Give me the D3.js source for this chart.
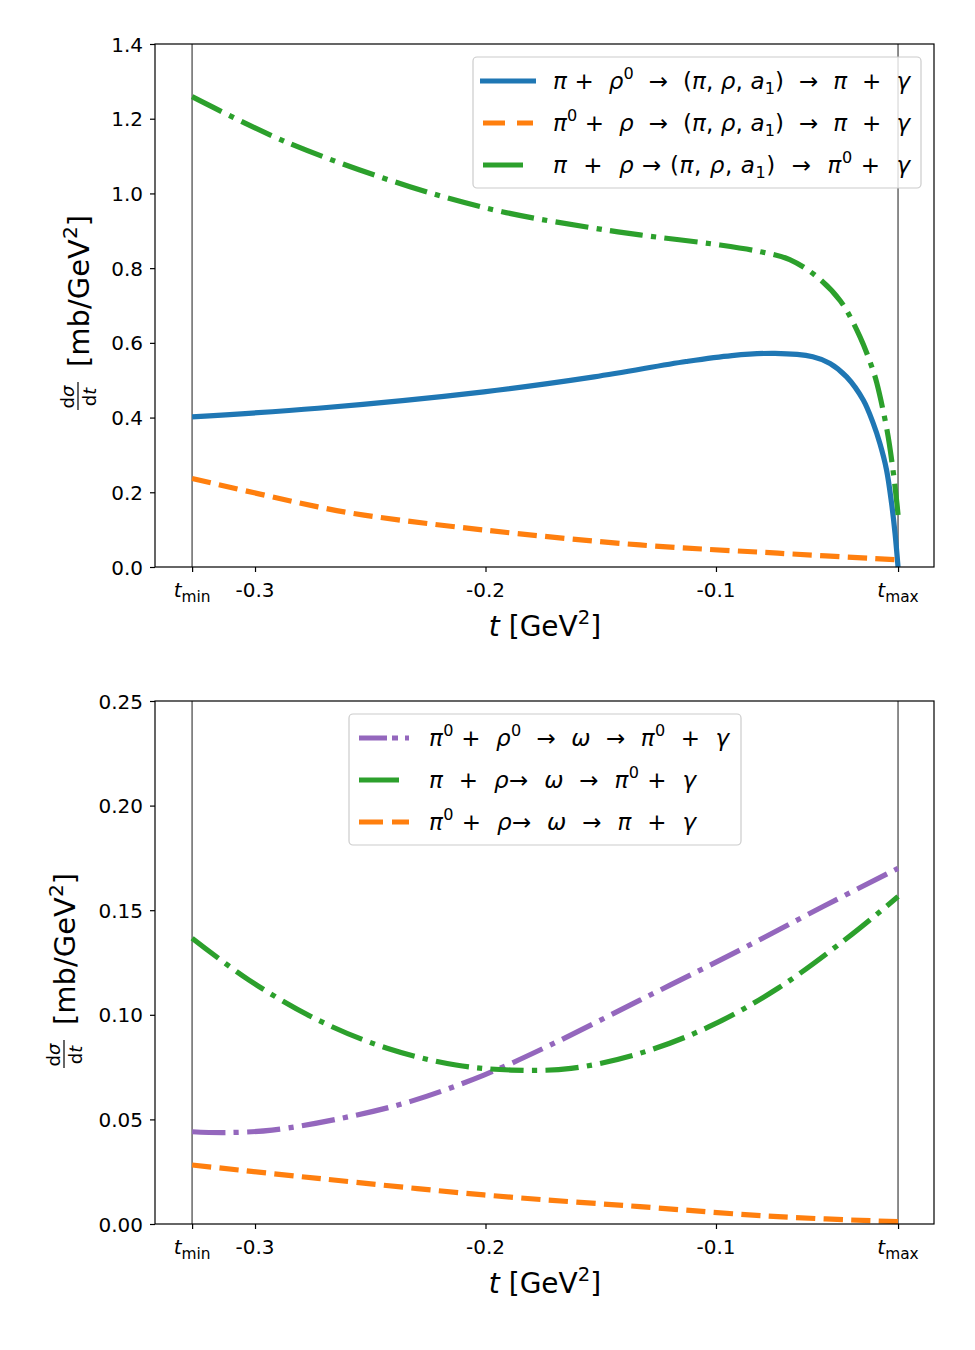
<!DOCTYPE html>
<html>
<head>
<meta charset="utf-8">
<script src="https://cdn.jsdelivr.net/npm/d3@7"></script>
<style>
  body { margin: 0; background: #fff; }
  text { font-family: "DejaVu Sans", sans-serif; white-space: pre; }
</style>
</head>
<body>
<div id="chart"></div>
<script>
// t range edges (GeV^2)
const tMin = -0.3273
const tMax = -0.0210
const xTicks = [tMin, -0.3, -0.2, -0.1, tMax]

// ---- top panel: (pi, rho, a1) exchange ----
const blueT   = [-0.3273, -0.2727, -0.2007, -0.1529, -0.1130, -0.0931, -0.0744, -0.0580, -0.0505, -0.0433, -0.0361, -0.0318, -0.0289, -0.0260, -0.0238, -0.0223, -0.0210]
const blueV   = [0.402, 0.425, 0.469, 0.509, 0.550, 0.566, 0.572, 0.563, 0.545, 0.509, 0.447, 0.385, 0.331, 0.260, 0.170, 0.090, 0.0]
const greenT  = [-0.3273, -0.2866, -0.2328, -0.1928, -0.1529, -0.1330, -0.0983, -0.0800, -0.0680, -0.0560, -0.0460, -0.0375, -0.0319, -0.0302, -0.0258, -0.0232, -0.0215, -0.0210]
const greenV  = [1.259, 1.138, 1.018, 0.951, 0.907, 0.889, 0.862, 0.843, 0.823, 0.776, 0.712, 0.616, 0.527, 0.492, 0.367, 0.260, 0.171, 0.139]
const orangeT = [-0.3273, -0.2727, -0.2527, -0.2007, -0.1330, -0.0731, -0.0210]
const orangeV = [0.237, 0.161, 0.139, 0.099, 0.059, 0.037, 0.019]
const topYTicks = [0, 0.2, 0.4, 0.6, 0.8, 1.0, 1.2, 1.4]

// ---- bottom panel: omega exchange ----
const purpleT  = [-0.3273, -0.3126, -0.2926, -0.2627, -0.2328, -0.2007, -0.1729, -0.1330, -0.0931, -0.0531, -0.0210]
const purpleV  = [0.0441, 0.0437, 0.0449, 0.0505, 0.0585, 0.0712, 0.0850, 0.107, 0.129, 0.152, 0.170]
const green2T  = [-0.3273, -0.3026, -0.2727, -0.2427, -0.2128, -0.1889, -0.1629, -0.1330, -0.1030, -0.0731, -0.0432, -0.0210]
const green2V  = [0.1366, 0.1166, 0.0975, 0.0840, 0.0760, 0.0736, 0.0744, 0.0816, 0.0943, 0.1127, 0.1366, 0.1565]
const orange2T = [-0.3273, -0.2727, -0.2007, -0.1330, -0.0731, -0.0210]
const orange2V = [0.0282, 0.0218, 0.0139, 0.0083, 0.0035, 0.0011]
const botYTicks = [0, 0.05, 0.10, 0.15, 0.20, 0.25]

// legend labels as [text, style] pieces
const topLabels = [
    [["π","i"],[" +  ","n"],["ρ","i"],["0","sup"],["  →  (","n"],["π","i"],[", ","n"],["ρ","i"],[", ","n"],["a","i"],["1","sub"],[")  →  ","n"],["π","i"],["  +  ","n"],["γ","i"]],
    [["π","i"],["0","sup"],[" +  ","n"],["ρ","i"],["  →  (","n"],["π","i"],[", ","n"],["ρ","i"],[", ","n"],["a","i"],["1","sub"],[")  →  ","n"],["π","i"],["  +  ","n"],["γ","i"]],
    [["π","i"],["  +  ","n"],["ρ","i"],[" → (","n"],["π","i"],[", ","n"],["ρ","i"],[", ","n"],["a","i"],["1","sub"],[")  →  ","n"],["π","i"],["0","sup"],[" +  ","n"],["γ","i"]]
]
const botLabels = [
    [["π","i"],["0","sup"],[" +  ","n"],["ρ","i"],["0","sup"],["  →  ","n"],["ω","i"],["  →  ","n"],["π","i"],["0","sup"],["  +  ","n"],["γ","i"]],
    [["π","i"],["  +  ","n"],["ρ","i"],["→  ","n"],["ω","i"],["  →  ","n"],["π","i"],["0","sup"],[" +  ","n"],["γ","i"]],
    [["π","i"],["0","sup"],[" +  ","n"],["ρ","i"],["→  ","n"],["ω","i"],["  →  ","n"],["π","i"],["  +  ","n"],["γ","i"]]
]

const C = { blue: "#1f77b4", orange: "#ff7f0e", green: "#2ca02c", purple: "#9467bd" }
const LW = 5.2
const dashed = [3.7 * LW, 1.6 * LW].join(",")
const dashdot = [6.4 * LW, 1.6 * LW, 1 * LW, 1.6 * LW].join(",")

const svg = d3.select("#chart").append("svg")
    .attr("width", 975).attr("height", 1350)

const x = d3.scaleLinear().domain([-0.3434, -0.0054]).range([155, 934])

function richText(sel, segs, size) {
    let shift = 0
    segs.forEach(([s, st]) => {
        let t = sel.append("tspan").text(s)
        let target = 0
        if (st === "i") t.attr("font-style", "italic")
        if (st === "sup") { t.attr("font-size", size * 0.7); target = -size * 0.42 }
        if (st === "sub") { t.attr("font-size", size * 0.7); target = size * 0.22 }
        t.attr("dy", target - shift)
        shift = target
    })
}

function panel(opt) {
    const g = svg.append("g")
    const y = d3.scaleLinear().domain(opt.yDomain).range([opt.bottom, opt.top])

    // axes
    const xAxis = d3.axisBottom(x).tickValues(xTicks).tickSize(5).tickFormat("")
    const gx = g.append("g").attr("transform", `translate(0,${opt.bottom})`).call(xAxis)
    gx.select(".domain").remove()
    gx.selectAll("line").attr("stroke", "#000").attr("stroke-width", 1.2)
    xTicks.forEach((v) => {
        let tx = g.append("text").attr("x", x(v)).attr("y", opt.bottom + 30)
            .attr("text-anchor", "middle").attr("font-size", 20)
        if (v === tMin || v === tMax) {
            richText(tx, [["t", "i"], [v === tMin ? "min" : "max", "sub"]], 22)
        } else {
            tx.text(d3.format(".1f")(v).replace("−", "-"))
        }
    })

    const yAxis = d3.axisLeft(y).tickValues(opt.yTicks).tickSize(5).tickFormat(d3.format(opt.yFmt))
    const gy = g.append("g").attr("transform", "translate(155,0)").call(yAxis)
    gy.select(".domain").remove()
    gy.selectAll("line").attr("stroke", "#000").attr("stroke-width", 1.2)
    gy.selectAll("text").attr("font-size", 20).attr("x", -12).attr("dy", "0.35em")
        .attr("font-family", "DejaVu Sans").attr("fill", "#000")

    // t_min / t_max markers
    g.selectAll(".vline").data([tMin, tMax]).enter().append("line")
        .attr("x1", d => x(d)).attr("x2", d => x(d))
        .attr("y1", opt.top).attr("y2", opt.bottom)
        .attr("stroke", "#808080").attr("stroke-width", 1.8)

    // curves
    const line = d3.line().x(d => x(d[0])).y(d => y(d[1])).curve(d3.curveCatmullRom.alpha(0.5))
    opt.series.forEach((s) => {
        g.append("path")
            .datum(d3.zip(s.t, s.v))
            .attr("d", line)
            .attr("fill", "none")
            .attr("stroke", s.color)
            .attr("stroke-width", LW)
            .attr("stroke-dasharray", s.dash || null)
    })

    // frame
    g.append("rect").attr("x", 155).attr("y", opt.top)
        .attr("width", 934 - 155).attr("height", opt.bottom - opt.top)
        .attr("fill", "none").attr("stroke", "#000").attr("stroke-width", 1.2)

    // x label
    let xl = g.append("text").attr("x", 545).attr("y", opt.bottom + 69)
        .attr("text-anchor", "middle").attr("font-size", 28)
    richText(xl, [["t", "i"], [" [GeV", "n"], ["2", "sup"], ["]", "n"]], 28)

    // y label (rotated)
    const yl = g.append("g").attr("transform", `translate(${opt.ylX},${opt.ylY}) rotate(-90)`)
    yl.append("text").attr("x", 15).attr("y", -4).attr("text-anchor", "middle")
        .attr("font-size", 18).call(t => richText(t, [["d", "n"], ["σ", "i"]], 18))
    yl.append("line").attr("x1", 2).attr("x2", 30).attr("y1", 0).attr("y2", 0)
        .attr("stroke", "#000").attr("stroke-width", 1.2)
    yl.append("text").attr("x", 15).attr("y", 18).attr("text-anchor", "middle")
        .attr("font-size", 18).call(t => richText(t, [["d", "n"], ["t", "i"]], 18))
    yl.append("text").attr("x", 45).attr("y", 11).attr("font-size", 29)
        .call(t => richText(t, [["[mb/GeV", "n"], ["2", "sup"], ["]", "n"]], 29))

    // legend
    const L = opt.legend
    const lg = g.append("g")
    lg.append("rect").attr("x", L.x).attr("y", L.y).attr("width", L.w).attr("height", L.h)
        .attr("rx", 4).attr("fill", "#fff").attr("fill-opacity", 0.8)
        .attr("stroke", "#cccccc").attr("stroke-width", 1.2)
    L.items.forEach((it, i) => {
        const cy = L.y + 24 + i * 42
        lg.append("line").attr("x1", it.h[0]).attr("x2", it.h[1]).attr("y1", cy).attr("y2", cy)
            .attr("stroke", it.color).attr("stroke-width", LW)
            .attr("stroke-dasharray", it.dash || null)
        const tx = lg.append("text").attr("x", L.tx).attr("y", cy + 8).attr("font-size", 23)
            .attr("textLength", it.len).attr("lengthAdjust", "spacing")
        richText(tx, it.label, 23)
    })
}

panel({
    top: 44, bottom: 567, yDomain: [0, 1.4], yTicks: topYTicks, yFmt: ".1f",
    ylX: 78, ylY: 412,
    series: [
        { t: blueT, v: blueV, color: C.blue },
        { t: orangeT, v: orangeV, color: C.orange, dash: dashed },
        { t: greenT, v: greenV, color: C.green, dash: dashdot }
    ],
    legend: {
        x: 473, y: 57, w: 448, h: 131, tx: 553,
        items: [
            { color: C.blue, h: [480, 536], label: topLabels[0], len: 357 },
            { color: C.orange, h: [483, 533], dash: "22,12", label: topLabels[1], len: 357 },
            { color: C.green, h: [483, 523], label: topLabels[2], len: 357 }
        ]
    }
})

panel({
    top: 701, bottom: 1224, yDomain: [0, 0.25], yTicks: botYTicks, yFmt: ".2f",
    ylX: 64, ylY: 1070,
    series: [
        { t: purpleT, v: purpleV, color: C.purple, dash: dashdot },
        { t: green2T, v: green2V, color: C.green, dash: dashdot },
        { t: orange2T, v: orange2V, color: C.orange, dash: dashed }
    ],
    legend: {
        x: 349, y: 714, w: 392, h: 131, tx: 429,
        items: [
            { color: C.purple, h: [359, 409], dash: "28,5,6,7,4,40", label: botLabels[0], len: 300 },
            { color: C.green, h: [359, 399], label: botLabels[1], len: 267 },
            { color: C.orange, h: [359, 409], dash: "24,9,17", label: botLabels[2], len: 267 }
        ]
    }
})
</script>
</body>
</html>
